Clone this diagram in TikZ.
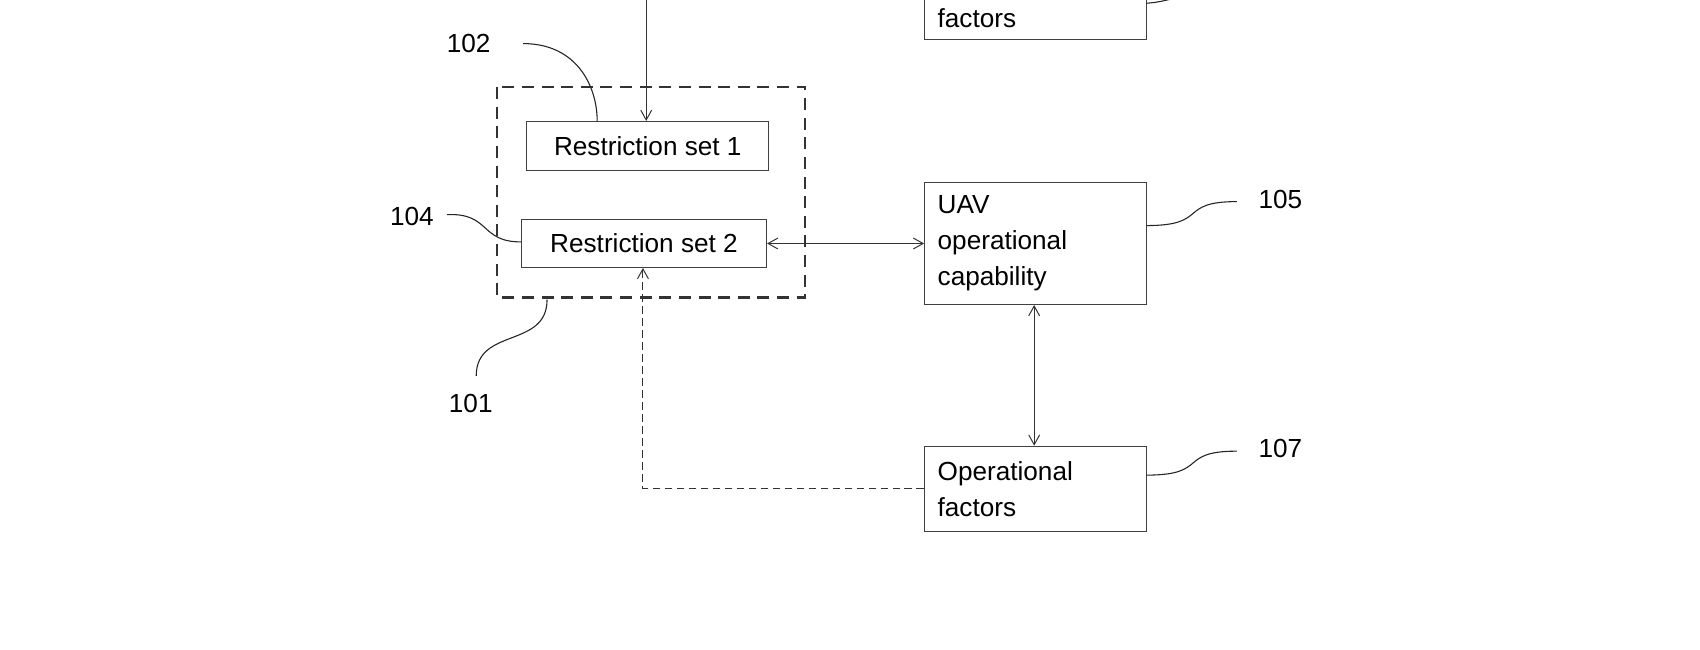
\documentclass[tikz,border=0pt]{standalone}
\usepackage{fontspec}
\setmainfont{Liberation Sans}
\usetikzlibrary{arrows.meta}
\begin{document}
\begin{tikzpicture}[x=1pt,y=-1pt,
  box/.style={draw=black!75,line width=0.9pt,inner sep=0pt,font=\fontsize{24}{33}\selectfont},
  arr/.style={line width=0.9pt,draw=black!80,-{Straight Barb[length=9pt,width=10pt]}},
  darr/.style={line width=0.9pt,draw=black!80,{Straight Barb[length=9pt,width=10pt]}-{Straight Barb[length=9pt,width=10pt]}},
  lead/.style={line width=1pt,draw=black!85},
  lab/.style={font=\fontsize{24}{28}\selectfont}]
\useasboundingbox[fill=white] (0,0) rectangle (1560,596);
% dashed group
\draw[line width=2pt,dash pattern=on 11pt off 7pt,draw=black!80] (456,80) rectangle (739,273);
\node[box,minimum width=222,minimum height=45,anchor=north west] (rs1) at (483,111) {Restriction set 1};
\node[box,minimum width=225,minimum height=44,anchor=north west] (rs2) at (478,201) {Restriction set 2};
\node[box,minimum width=204,minimum height=112,anchor=north west,text width=180,align=left,inner xsep=12] (uav) at (848,167) {UAV\\operational\\capability};
\node[box,minimum width=204,minimum height=78,anchor=north west,text width=180,align=left,inner xsep=12] (opf) at (848,409) {Operational\\factors};
\node[box,minimum width=204,minimum height=80,anchor=south west,text width=180,align=left,inner xsep=12,text depth=8pt] (top) at (848,37) {\\factors};
\coordinate (tin) at (593,-5);
\draw[arr] (tin) -- (rs1.north -| tin);
\draw[darr] (rs2.east) -- (uav.west |- rs2.east);
\draw[darr] (uav.south -| 949,0) -- (opf.north -| 949,0);
\coordinate (dc) at (590,448);
\draw[arr,dash pattern=on 7pt off 4pt] (opf.west |- dc) -- (dc) -- (rs2.south -| dc);
% labels
\node[lab] (l102) at (430,40) {102};
\node[lab] (l104) at (378,199) {104};
\node[lab] (l101) at (432,370) {101};
\node[lab] (l105) at (1175,183) {105};
\node[lab] (l107) at (1175,412) {107};
\draw[lead] (480,40) .. controls (530,40) and (548,80) .. (548,111);
\draw[lead] (410,197) .. controls (450,195) and (440,222) .. (478,222);
\draw[lead] (437,345) .. controls (437,300) and (502,320) .. (502,275);
\draw[lead] (1052,207) .. controls (1110,207) and (1080,185) .. (1135,185);
\draw[lead] (1052,436) .. controls (1110,436) and (1080,414) .. (1135,414);
\draw[lead] (1052,3) .. controls (1065,2) and (1070,0) .. (1080,-2);
\end{tikzpicture}
\end{document}
